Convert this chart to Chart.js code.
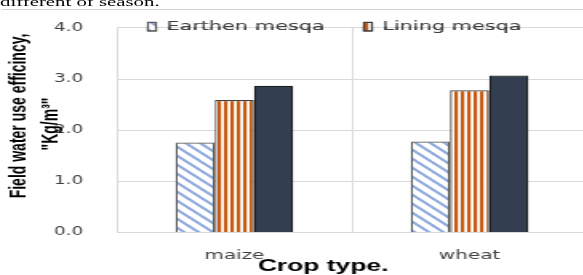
<!DOCTYPE html>
<html>
<head>
<meta charset="utf-8">
<script src="https://cdn.jsdelivr.net/npm/chart.js@4"></script>
<style>
html, body { margin: 0; padding: 0; overflow: hidden; background: #fff; }
#wrap { position: relative; width: 367px; height: 275px; transform: scaleX(1.6); transform-origin: 0 0; }
#caption { position: absolute; left: 0; top: -5.3px; font: 13px/13px "Liberation Serif"; white-space: nowrap; color: #000; }
#rule { position: absolute; left: 1px; right: 0; top: 9px; height: 1px; background: #d4d4d4; }
#chart { position: absolute; left: 0; top: 0; }
</style>
</head>
<body>
<div id="wrap">
  <div id="caption">different of season.</div>
  <div id="rule"></div>
  <canvas id="chart" width="367" height="275"></canvas>
</div>
<script>
// values
var categories = ['maize', 'wheat'];
var earthen = [1.76, 1.78];
var lining = [2.59, 2.78];
var third = [2.87, 3.07];
var seriesNames = ['Earthen mesqa', 'Lining mesqa', ''];
var yTicks = [0, 1, 2, 3, 4];
var yTitle = ['Field water use efficincy,', '"Kg/m\u00b3"'];
var xTitle = 'Crop type.';

function hatch() {
    var c = document.createElement('canvas');
    c.width = 9; c.height = 9;
    var g = c.getContext('2d');
    g.fillStyle = '#fff';
    g.fillRect(0, 0, 9, 9);
    g.strokeStyle = '#8faadc';
    g.lineWidth = 2.1;
    for (var k = -9; k <= 9; k += 9) {
        g.beginPath();
        g.moveTo(k - 1, -1);
        g.lineTo(k + 10, 10);
        g.stroke();
    }
    return g.createPattern(c, 'repeat');
}

function stripes() {
    var c = document.createElement('canvas');
    c.width = 4; c.height = 4;
    var g = c.getContext('2d');
    g.fillStyle = '#fff';
    g.fillRect(0, 0, 4, 4);
    g.fillStyle = '#c55a11';
    g.fillRect(0, 0, 2.2, 4);
    return g.createPattern(c, 'repeat');
}

// legend sits on the top gridline with a white box behind the items
var legendSpot = {
    id: 'legendSpot',
    afterLayout: function (chart) {
        chart.legend.left = 67.9;
        chart.legend.right = chart.width + 200;
        chart.legend.top = -4.6;
        chart.legend.bottom = 45;
    },
    afterDatasetsDraw: function (chart) {
        var ctx = chart.ctx;
        ctx.save();
        ctx.fillStyle = '#fff';
        ctx.fillRect(91, 17, 235, 9.7);
        ctx.restore();
        chart.legend.draw();
    }
};

// axis titles drawn where the figure has them
var titlesPlugin = {
    id: 'titles',
    afterDraw: function (chart) {
        var ctx = chart.ctx;
        var spots = [[12, 116], [32.5, 124]];
        ctx.save();
        ctx.fillStyle = '#000';
        ctx.textAlign = 'center';
        ctx.textBaseline = 'middle';
        ctx.font = 'bold 14px "Liberation Sans"';
        for (var i = 0; i < yTitle.length; i++) {
            ctx.save();
            ctx.translate(spots[i][0], spots[i][1]);
            ctx.rotate(-Math.PI / 2);
            ctx.fillText(yTitle[i], 0, 0);
            ctx.restore();
        }
        ctx.font = 'bold 16.5px "Liberation Sans"';
        ctx.fillText(xTitle, 202, 266);
        ctx.restore();
    }
};

var chart = new Chart(document.getElementById('chart'), {
    type: 'bar',
    data: {
        labels: categories,
        datasets: [
            { label: seriesNames[0], data: earthen, backgroundColor: hatch(), borderColor: '#595959', borderWidth: 1.25 },
            { label: seriesNames[1], data: lining, backgroundColor: stripes(), borderColor: '#404040', borderWidth: 1.25 },
            { label: seriesNames[2], data: third, backgroundColor: '#333f50', borderColor: '#1e1e1e', borderWidth: 1.25 }
        ]
    },
    options: {
        responsive: false,
        animation: false,
        devicePixelRatio: 1,
        categoryPercentage: 0.5,
        barPercentage: 1.0,
        layout: { padding: { top: -21.6, left: 0, right: 0, bottom: 0 } },
        plugins: {
            legend: {
                position: 'top',
                align: 'start',
                labels: {
                    filter: function (item) { return item.datasetIndex < 2; },
                    boxWidth: 5,
                    boxHeight: 8.5,
                    padding: 24.6,
                    color: '#404040',
                    font: { family: 'DejaVu Sans', size: 13 }
                }
            },
            tooltip: { enabled: false }
        },
        scales: {
            x: {
                afterFit: function (s) { s.height = 42.5; },
                grid: { color: '#d9d9d9', drawTicks: false, offset: true },
                border: { color: '#d9d9d9' },
                ticks: { color: '#404040', padding: 15.5, font: { family: 'DejaVu Sans', size: 12.5 } }
            },
            y: {
                min: yTicks[0],
                max: yTicks[yTicks.length - 1],
                afterFit: function (s) { s.width = 73; },
                grid: { color: '#d9d9d9', drawTicks: false },
                border: { display: false },
                ticks: {
                    stepSize: yTicks[1] - yTicks[0],
                    padding: 21,
                    color: '#404040',
                    font: { family: 'DejaVu Sans', size: 11.5 },
                    callback: function (v) { return v.toFixed(1); }
                }
            }
        }
    },
    plugins: [legendSpot, titlesPlugin]
});
</script>
</body>
</html>
